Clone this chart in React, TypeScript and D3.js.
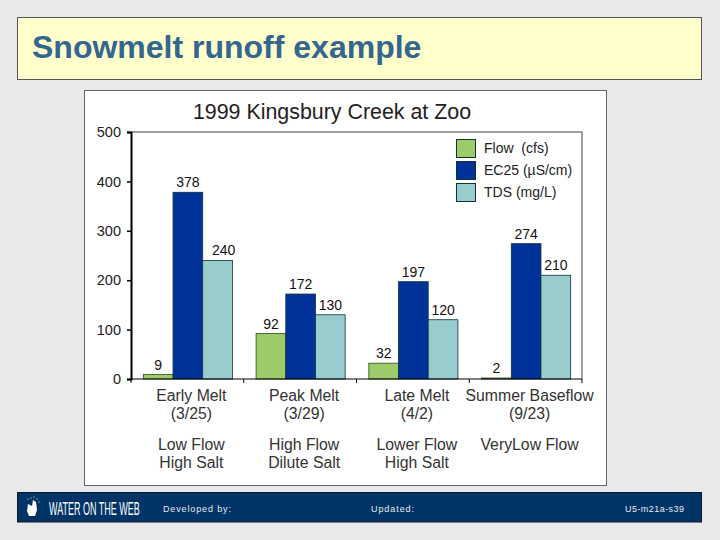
import { useEffect, useRef } from 'react'
import * as d3 from 'd3'

const categories = ['Early Melt', 'Peak Melt', 'Late Melt', 'Summer Baseflow']
const dates = ['(3/25)', '(3/29)', '(4/2)', '(9/23)']
const flowNotes = ['Low Flow', 'High Flow', 'Lower Flow', 'VeryLow Flow']
const saltNotes = ['High Salt', 'Dilute Salt', 'High Salt', '']

const seriesNames = ['Flow  (cfs)', 'EC25 (µS/cm)', 'TDS (mg/L)']
const flow = [9, 92, 32, 2]
const ec25 = [378, 172, 197, 274]
const tds = [240, 130, 120, 210]
const seriesValues = [flow, ec25, tds]
const seriesColors = ['#9ccb6a', '#003399', '#99cccc']

const yTicks = [0, 100, 200, 300, 400, 500]

const sans = '"Liberation Sans", Arial, sans-serif'

export default function App() {
  const svgRef = useRef<SVGSVGElement>(null)

  useEffect(() => {
    if (!svgRef.current) return

    const svg = d3.select(svgRef.current)
    svg.selectAll('*').remove()

    // Slide background and panels
    svg.append('rect').attr('width', 720).attr('height', 540).attr('fill', '#e9e9e9')
    svg.append('rect')
      .attr('x', 17.5).attr('y', 17.5).attr('width', 684).attr('height', 62)
      .attr('fill', '#ffffcc').attr('stroke', '#555')
    svg.append('text')
      .attr('x', 32).attr('y', 58)
      .attr('font-family', sans).attr('font-weight', 'bold').attr('font-size', 32)
      .attr('fill', '#336690')
      .text('Snowmelt runoff example')
    svg.append('rect')
      .attr('x', 84.5).attr('y', 90.5).attr('width', 522).attr('height', 395)
      .attr('fill', '#fff').attr('stroke', '#666')

    svg.append('text')
      .attr('x', 332).attr('y', 119)
      .attr('text-anchor', 'middle')
      .attr('font-family', sans).attr('font-size', 21.4).attr('fill', '#222')
      .text('1999 Kingsbury Creek at Zoo')

    // Scales
    const x0 = d3.scaleBand<string>()
      .domain(categories)
      .range([131.5, 582.5])
      .paddingInner(0.21)
      .paddingOuter(0.105)
    const x1 = d3.scaleBand<number>()
      .domain([0, 1, 2])
      .range([0, x0.bandwidth()])
    const y = d3.scaleLinear().domain([0, 500]).range([379, 132])

    // Plot frame
    svg.append('path')
      .attr('d', `M131,${y(500)}H582V${y(0)}`)
      .attr('fill', 'none').attr('stroke', '#808080').attr('stroke-width', 1.5)

    // Bars
    seriesValues.forEach((values, s) => {
      svg.append('g')
        .selectAll('rect')
        .data(values)
        .enter()
        .append('rect')
        .attr('x', (_d, i) => (x0(categories[i]) as number) + (x1(s) as number))
        .attr('y', d => y(d))
        .attr('width', x1.bandwidth())
        .attr('height', d => y(0) - y(d))
        .attr('fill', seriesColors[s])
        .attr('stroke', s === 0 ? '#34471c' : '#10303a')
        .attr('stroke-width', 0.8)

      svg.append('g')
        .selectAll('text')
        .data(values)
        .enter()
        .append('text')
        .attr('x', (_d, i) => (x0(categories[i]) as number) + (x1(s) as number) + x1.bandwidth() / 2)
        .attr('y', d => y(d) - 5)
        // the 240 label sits a little right of its bar in the original
        .attr('dx', d => (d === 240 ? 6 : 0))
        .attr('text-anchor', 'middle')
        .attr('font-family', sans).attr('font-size', 14).attr('fill', '#111')
        .text(d => d)
    })

    // Axes
    const yAxis = svg.append('g')
      .attr('transform', 'translate(131,0)')
      .call(d3.axisLeft(y).tickValues(yTicks).tickSize(4).tickPadding(6))
    yAxis.selectAll('.domain').attr('stroke', '#000').attr('stroke-width', 2)
    yAxis.selectAll('line').attr('stroke', '#000').attr('stroke-width', 1.5)
    yAxis.selectAll('text')
      .attr('font-family', sans).attr('font-size', 14.5).attr('fill', '#222')

    const step = x0.step()
    const xAxis = svg.append('g').attr('transform', `translate(0,${y(0)})`)
    xAxis.append('line')
      .attr('x1', 131).attr('x2', 582)
      .attr('stroke', '#000').attr('stroke-width', 1.2)
    xAxis.selectAll('.boundary')
      .data(d3.range(categories.length + 1))
      .enter()
      .append('line')
      .attr('class', 'boundary')
      .attr('x1', d => 131 + d * step).attr('x2', d => 131 + d * step)
      .attr('y1', 0).attr('y2', 4)
      .attr('stroke', '#000')

    // Category labels, four rows under each group
    const rows: [string[], number][] = [
      [categories, 401],
      [dates, 419],
      [flowNotes, 450],
      [saltNotes, 468]
    ]
    rows.forEach(([labels, rowY]) => {
      svg.append('g')
        .selectAll('text')
        .data(labels)
        .enter()
        .append('text')
        .attr('x', (_d, i) => (x0(categories[i]) as number) + x0.bandwidth() / 2 + 3.5)
        .attr('y', rowY)
        .attr('text-anchor', 'middle')
        .attr('font-family', sans).attr('font-size', 15.8).attr('fill', '#333')
        .text(d => d)
    })

    // Legend
    const legend = svg.append('g')
      .selectAll('g')
      .data(seriesNames)
      .enter()
      .append('g')
      .attr('transform', (_d, i) => `translate(456.5,${139.5 + i * 22})`)
    legend.append('rect')
      .attr('width', 19).attr('height', 18)
      .attr('fill', (_d, i) => seriesColors[i])
      .attr('stroke', '#10303a')
    legend.append('text')
      .attr('x', 27.5).attr('y', 13.5)
      .attr('font-family', sans).attr('font-size', 14).attr('fill', '#222')
      .style('white-space', 'pre')
      .text(d => d)

    // Footer bar
    svg.append('rect')
      .attr('x', 17.5).attr('y', 492.5).attr('width', 684).attr('height', 29.5)
      .attr('fill', '#003366').attr('stroke', '#10182a')

    // Logo mark
    const logo = svg.append('g').attr('fill', '#fff')
    logo.append('path')
      .attr('d', 'M28,504 L32,506 L33,500 L36,502 L37,510 L35,516 L29,516 L27,511 Z')
    logo.selectAll('circle')
      .data([[28, 499], [31, 498], [34, 497], [37, 499], [39, 502]])
      .enter()
      .append('circle')
      .attr('cx', d => d[0]).attr('cy', d => d[1]).attr('r', 0.6)
    svg.append('text')
      .attr('transform', 'translate(49,515) scale(0.5,1)')
      .attr('font-family', '"Liberation Sans Narrow", "Liberation Sans", sans-serif')
      .attr('font-size', 18).attr('fill', '#fff')
      .text('WATER ON THE WEB')

    const footer: [string, number, number][] = [
      ['Developed by:', 163, 68],
      ['Updated:', 371, 43],
      ['U5-m21a-s39', 625, 59]
    ]
    footer.forEach(([label, fx, len]) => {
      svg.append('text')
        .attr('x', fx).attr('y', 512)
        .attr('textLength', len)
        .attr('font-family', sans).attr('font-size', 9).attr('fill', '#e6ecf2')
        .text(label)
    })
  }, [])

  return (
    <svg
      ref={svgRef}
      width={720}
      height={540}
      style={{ position: 'absolute', left: 0, top: 0 }}
    />
  )
}
